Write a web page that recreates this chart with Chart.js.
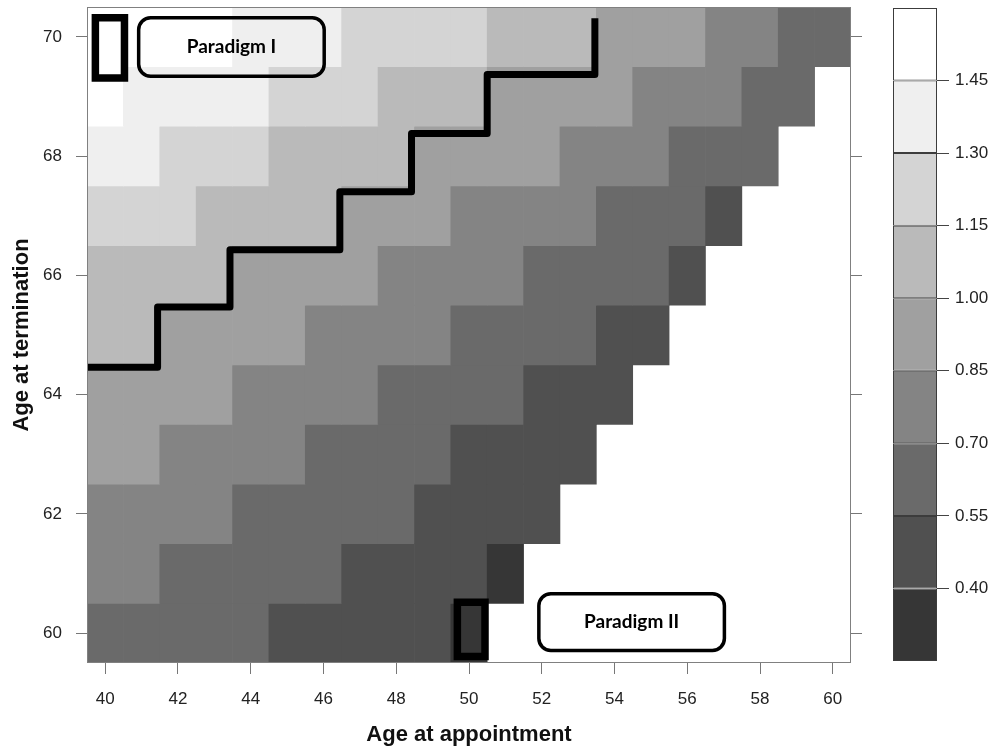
<!DOCTYPE html>
<html>
<head>
<meta charset="utf-8">
<script src="https://cdn.jsdelivr.net/npm/chart.js@4/dist/chart.umd.min.js"></script>
<style>
  html, body { margin: 0; padding: 0; background: #fff; }
  #wrap { position: relative; width: 1001px; height: 748px; overflow: hidden; }
  #heat { position: absolute; left: 0; top: 0; }
  #key { position: absolute; left: 880px; top: 0; }
</style>
</head>
<body>
<div id="wrap">
  <canvas id="heat" width="880" height="748"></canvas>
  <canvas id="key" width="121" height="748"></canvas>
</div>
<script>
// ages on the two axes
const appointAges = [40, 41, 42, 43, 44, 45, 46, 47, 48, 49, 50, 51, 52, 53, 54, 55, 56, 57, 58, 59, 60];
const termAges = [70, 69, 68, 67, 66, 65, 64, 63, 62, 61, 60];
const xTicks = [40, 42, 44, 46, 48, 50, 52, 54, 56, 58, 60];
const yTicks = [60, 62, 64, 66, 68, 70];

// cell values (band midpoints), one row per age at termination
// null = not possible (white corner)
const term70 = [1.52, 1.52, 1.52, 1.52, 1.37, 1.37, 1.37, 1.22, 1.22, 1.22, 1.22, 1.07, 1.07, 1.07, 0.92, 0.92, 0.92, 0.77, 0.77, 0.62, 0.62];
const term69 = [1.52, 1.37, 1.37, 1.37, 1.37, 1.22, 1.22, 1.22, 1.07, 1.07, 1.07, 0.92, 0.92, 0.92, 0.92, 0.77, 0.77, 0.77, 0.62, 0.62, null];
const term68 = [1.37, 1.37, 1.22, 1.22, 1.22, 1.07, 1.07, 1.07, 1.07, 0.92, 0.92, 0.92, 0.92, 0.77, 0.77, 0.77, 0.62, 0.62, 0.62, null, null];
const term67 = [1.22, 1.22, 1.22, 1.07, 1.07, 1.07, 1.07, 0.92, 0.92, 0.92, 0.77, 0.77, 0.77, 0.77, 0.62, 0.62, 0.62, 0.47, null, null, null];
const term66 = [1.07, 1.07, 1.07, 1.07, 0.92, 0.92, 0.92, 0.92, 0.77, 0.77, 0.77, 0.77, 0.62, 0.62, 0.62, 0.62, 0.47, null, null, null, null];
const term65 = [1.07, 1.07, 0.92, 0.92, 0.92, 0.92, 0.77, 0.77, 0.77, 0.77, 0.62, 0.62, 0.62, 0.62, 0.47, 0.47, null, null, null, null, null];
const term64 = [0.92, 0.92, 0.92, 0.92, 0.77, 0.77, 0.77, 0.77, 0.62, 0.62, 0.62, 0.62, 0.47, 0.47, 0.47, null, null, null, null, null, null];
const term63 = [0.92, 0.92, 0.77, 0.77, 0.77, 0.77, 0.62, 0.62, 0.62, 0.62, 0.47, 0.47, 0.47, 0.47, null, null, null, null, null, null, null];
const term62 = [0.77, 0.77, 0.77, 0.77, 0.62, 0.62, 0.62, 0.62, 0.62, 0.47, 0.47, 0.47, 0.47, null, null, null, null, null, null, null, null];
const term61 = [0.77, 0.77, 0.62, 0.62, 0.62, 0.62, 0.62, 0.47, 0.47, 0.47, 0.47, 0.32, null, null, null, null, null, null, null, null, null];
const term60 = [0.62, 0.62, 0.62, 0.62, 0.62, 0.47, 0.47, 0.47, 0.47, 0.47, 0.32, null, null, null, null, null, null, null, null, null, null];
const rows = [term70, term69, term68, term67, term66, term65, term64, term63, term62, term61, term60];

// colour key
const breaks = [0.25, 0.40, 0.55, 0.70, 0.85, 1.00, 1.15, 1.30, 1.45, 1.60];
const grays = ["#363636", "#505050", "#6a6a6a", "#848484", "#a0a0a0", "#bababa", "#d4d4d4", "#efefef", "#ffffff"];

// annotations, in axis units
const stepX = [39.5, 41.44, 41.44, 43.43, 43.43, 46.45, 46.45, 48.42, 48.42, 50.5, 50.5, 53.46, 53.46];
const stepY = [64.46, 64.46, 65.47, 65.47, 66.43, 66.43, 67.4, 67.4, 68.38, 68.38, 69.37, 69.37, 70.31];
const markBoxes = [
    { x: [39.73, 40.53], y: [69.31, 70.32] },
    { x: [49.68, 50.44], y: [59.61, 60.52] }
];
const paradigmLabels = [
    { text: "Paradigm I", x: [40.92, 46.02], y: [69.34, 70.32] },
    { text: "Paradigm II", x: [51.92, 57.02], y: [59.71, 60.66] }
];

const tickFont = { family: "'Liberation Sans', Arial, sans-serif", size: 17 };
const titleFont = { family: "'Liberation Sans', Arial, sans-serif", size: 22, weight: "bold" };

function colorFor(v) {
    for (let i = 0; i < grays.length; i++) {
        if (v >= breaks[i] && v < breaks[i + 1]) return grays[i];
    }
    return "#ffffff";
}

// chart.js keeps room for half a tick label past the ends; the picture does not
function noEndPadding(s) {
    s.paddingTop = 0;
    s.paddingBottom = 0;
    s.paddingLeft = 0;
    s.paddingRight = 0;
}

const cellSets = rows.map((vals, r) => ({
    type: "bar",
    order: 2,
    data: vals.map((v, i) => v === null ? null : { x: appointAges[i], y: [termAges[r] - 0.5, termAges[r] + 0.5], v: v }).filter(Boolean),
    backgroundColor: (ctx) => ctx.raw ? colorFor(ctx.raw.v) : "#ffffff",
    borderWidth: 0,
    grouped: false,
    categoryPercentage: 1,
    barPercentage: 1
}));

const stepSet = {
    type: "line",
    order: 1,
    data: stepX.map((x, i) => ({ x: x, y: stepY[i] })),
    borderColor: "#000",
    borderWidth: 7,
    borderJoinStyle: "round",
    borderCapStyle: "butt",
    pointRadius: 0,
    fill: false,
    tension: 0
};

const boxSets = markBoxes.map((b) => ({
    type: "line",
    order: 0,
    data: [
        { x: b.x[0], y: b.y[1] }, { x: b.x[1], y: b.y[1] },
        { x: b.x[1], y: b.y[0] }, { x: b.x[0], y: b.y[0] },
        { x: b.x[0], y: b.y[1] }
    ],
    borderColor: "#000",
    borderWidth: 7.5,
    borderJoinStyle: "miter",
    borderCapStyle: "square",
    pointRadius: 0,
    fill: false,
    tension: 0,
    clip: false
}));

const framePlugin = {
    id: "frame",
    afterDatasetsDraw(chart) {
        const { ctx, chartArea: a } = chart;
        ctx.save();
        ctx.strokeStyle = "#808080";
        ctx.lineWidth = 1;
        ctx.strokeRect(a.left + 0.5, a.top + 0.5, a.right - a.left - 1, a.bottom - a.top - 1);
        ctx.restore();
    }
};

const labelPlugin = {
    id: "paradigms",
    afterDraw(chart) {
        const { ctx, scales: { x, y } } = chart;
        ctx.save();
        paradigmLabels.forEach((p) => {
            const left = x.getPixelForValue(p.x[0]);
            const right = x.getPixelForValue(p.x[1]);
            const top = y.getPixelForValue(p.y[1]);
            const bottom = y.getPixelForValue(p.y[0]);
            ctx.beginPath();
            ctx.roundRect(left, top, right - left, bottom - top, 12);
            ctx.lineWidth = 3.5;
            ctx.strokeStyle = "#000";
            ctx.stroke();
            ctx.fillStyle = "#000";
            ctx.font = "bold 19px Lato, 'Open Sans', sans-serif";
            ctx.textAlign = "center";
            ctx.textBaseline = "middle";
            ctx.fillText(p.text, (left + right) / 2, (top + bottom) / 2);
        });
        ctx.restore();
    }
};

new Chart(document.getElementById("heat"), {
    type: "bar",
    data: { datasets: [...boxSets, stepSet, ...cellSets] },
    options: {
        responsive: false,
        animation: false,
        events: [],
        layout: { padding: { left: 0, top: 7, right: 18, bottom: 0 } },
        plugins: { legend: { display: false }, tooltip: { enabled: false } },
        scales: {
            x: {
                type: "linear",
                min: 39.5,
                max: 60.5,
                offset: false,
                afterBuildTicks: (s) => { s.ticks = xTicks.map((v) => ({ value: v })); },
                afterFit: (s) => { s.height = 85; noEndPadding(s); },
                grid: { offset: false, drawOnChartArea: false, tickLength: 11, color: "#777" },
                border: { display: false },
                ticks: { padding: 15, color: "#222", font: tickFont, maxRotation: 0, autoSkip: false },
                title: { display: true, text: "Age at appointment", color: "#111", font: titleFont, padding: { top: 0, bottom: 0 } }
            },
            y: {
                type: "linear",
                position: "left",
                min: 59.5,
                max: 70.5,
                afterBuildTicks: (s) => { s.ticks = yTicks.map((v) => ({ value: v })); },
                afterFit: (s) => { s.width = 87; noEndPadding(s); },
                grid: { drawOnChartArea: false, tickLength: 11, color: "#777" },
                border: { display: false },
                ticks: { padding: 14, color: "#222", font: tickFont },
                title: { display: true, text: "Age at termination", color: "#111", font: titleFont, padding: { top: 9, bottom: 0 } }
            },
            y2: {
                type: "linear",
                position: "right",
                min: 59.5,
                max: 70.5,
                afterBuildTicks: (s) => { s.ticks = yTicks.map((v) => ({ value: v })); },
                afterFit: (s) => { s.width = 11; noEndPadding(s); },
                grid: { drawOnChartArea: false, tickLength: 11, color: "#777" },
                border: { display: false },
                ticks: { display: false }
            }
        }
    },
    plugins: [framePlugin, labelPlugin]
});

new Chart(document.getElementById("key"), {
    type: "bar",
    data: {
        labels: [""],
        datasets: grays.map((c, i) => ({
            data: [[breaks[i], breaks[i + 1]]],
            backgroundColor: c,
            borderColor: "#3c3c3c",
            borderWidth: 1,
            borderSkipped: false,
            inflateAmount: 0,
            grouped: false,
            categoryPercentage: 1,
            barPercentage: 1
        }))
    },
    options: {
        responsive: false,
        animation: false,
        events: [],
        layout: { padding: { left: 13, top: 8, right: 0, bottom: 87 } },
        plugins: { legend: { display: false }, tooltip: { enabled: false } },
        scales: {
            x: { display: false },
            y: {
                position: "right",
                min: 0.25,
                max: 1.60,
                afterBuildTicks: (s) => { s.ticks = breaks.slice(1, -1).map((v) => ({ value: v })); },
                afterFit: (s) => { s.width = 64; noEndPadding(s); },
                grid: { drawOnChartArea: false, tickLength: 12, color: "#444" },
                border: { display: false },
                ticks: { padding: 6, color: "#222", font: tickFont, callback: (v) => Number(v).toFixed(2) }
            }
        }
    }
});
</script>
</body>
</html>
